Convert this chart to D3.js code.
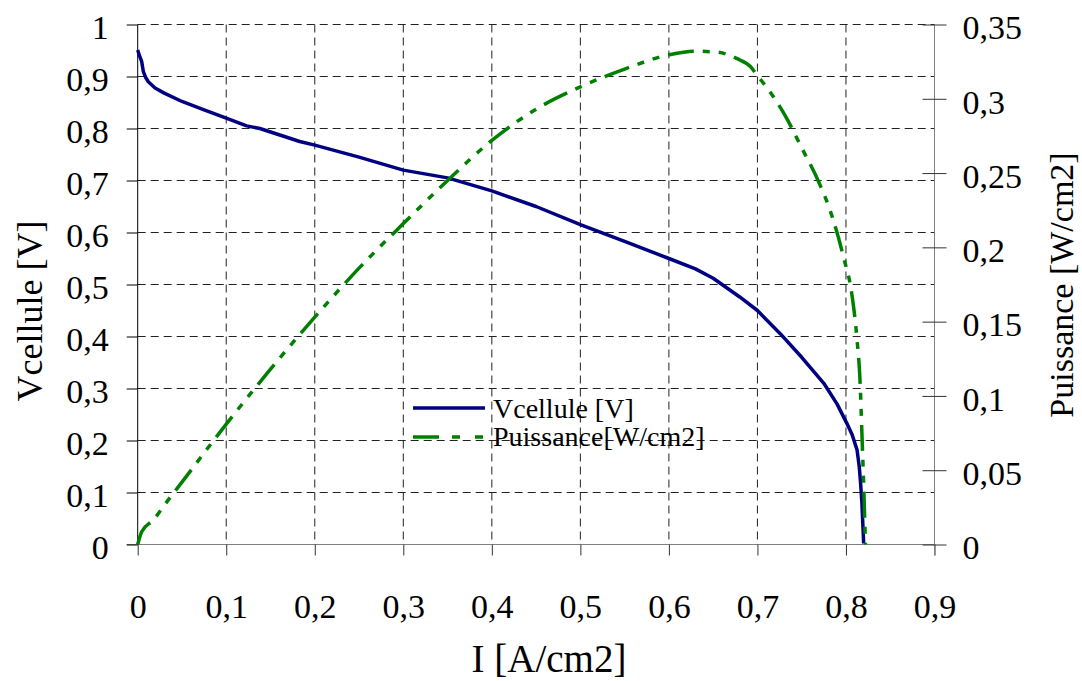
<!DOCTYPE html>
<html>
<head>
<meta charset="utf-8">
<script src="https://d3js.org/d3.v7.min.js"></script>
<style>
body{margin:0;background:#fff;}
</style>
</head>
<body>
<svg id="chart" width="1082" height="681"></svg>
<script>
// courbe de polarisation : tension cellule
const iV = [0, 0.002, 0.0045, 0.0063, 0.009, 0.012, 0.0196, 0.03, 0.05, 0.075, 0.1, 0.123, 0.138, 0.183, 0.2, 0.25, 0.3, 0.35, 0.4, 0.45, 0.5, 0.55, 0.6, 0.63, 0.65, 0.68, 0.7, 0.726, 0.75, 0.775, 0.79, 0.801, 0.807, 0.8125, 0.815, 0.8165, 0.818, 0.819, 0.82];
const vCell = [0.951, 0.94, 0.929, 0.91, 0.898, 0.89, 0.878, 0.868, 0.852, 0.836, 0.82, 0.805, 0.8, 0.775, 0.768, 0.745, 0.72, 0.705, 0.68, 0.65, 0.615, 0.583, 0.55, 0.53, 0.512, 0.476, 0.45, 0.405, 0.36, 0.31, 0.27, 0.233, 0.211, 0.182, 0.15, 0.118, 0.08, 0.041, 0.002];
// puissance
const iP = [0, 0.0045, 0.0176, 0.0346, 0.05, 0.1, 0.15, 0.2, 0.25, 0.3, 0.35, 0.4, 0.45, 0.5, 0.55, 0.6, 0.629, 0.654, 0.677, 0.692, 0.6995, 0.7165, 0.731, 0.75, 0.77, 0.782, 0.797, 0.807, 0.8125, 0.816, 0.818, 0.82, 0.822];
const puiss = [0, 0.0086, 0.0165, 0.030, 0.042, 0.081, 0.118, 0.153, 0.186, 0.216, 0.245, 0.272, 0.293, 0.308, 0.32, 0.3296, 0.332, 0.3314, 0.327, 0.3217, 0.316, 0.3027, 0.289, 0.267, 0.243, 0.225, 0.194, 0.167, 0.138, 0.1085, 0.075, 0.04, 0];

const xTicks = [0, 0.1, 0.2, 0.3, 0.4, 0.5, 0.6, 0.7, 0.8, 0.9];
const yTicks = [0, 0.1, 0.2, 0.3, 0.4, 0.5, 0.6, 0.7, 0.8, 0.9, 1];
const y2Ticks = [0, 0.05, 0.1, 0.15, 0.2, 0.25, 0.3, 0.35];

const FONT = "'Liberation Serif', 'Times New Roman', serif";
const svg = d3.select("#chart");
const L = 137.7, R = 934.5, T = 24.5, B = 544.5;

const x = d3.scaleLinear().domain([0, 0.9]).range([L, R]);
const y = d3.scaleLinear().domain([0, 1]).range([B, T]);
const y2 = d3.scaleLinear().domain([0, 0.35]).range([B, T]);

const fmt = d => String(+d.toFixed(2)).replace(".", ",");

// grille
const grid = svg.append("g").attr("stroke", "#222").attr("stroke-width", 1).attr("stroke-dasharray", "8,5");
grid.selectAll(".h").data(yTicks.slice(1)).join("line")
  .attr("x1", L).attr("x2", R).attr("y1", d => y(d)).attr("y2", d => y(d));
grid.selectAll(".v").data(xTicks.slice(1, -1)).join("line")
  .attr("y1", T).attr("y2", B).attr("x1", d => x(d)).attr("x2", d => x(d));

// axes
const gx = svg.append("g").attr("transform", `translate(0,${B})`)
  .call(d3.axisBottom(x).tickValues(xTicks).tickFormat(fmt).tickSize(11).tickPadding(38));
gx.select(".domain").attr("stroke", "#808080").attr("d", `M${L - 11},0H${R}`);
gx.selectAll(".tick line").attr("stroke", "#333");

const gy = svg.append("g").attr("transform", `translate(${L},0)`)
  .call(d3.axisLeft(y).tickValues(yTicks).tickFormat(fmt).tickSize(11).tickPadding(18));
gy.select(".domain").attr("stroke", "#000").attr("d", `M0,${T}V${B}`);

const gy2 = svg.append("g").attr("transform", `translate(${R},0)`)
  .call(d3.axisRight(y2).tickValues(y2Ticks).tickFormat(fmt).tickSize(12).tickPadding(16));
gy2.select(".domain").attr("stroke", "#808080").attr("d", `M0,${T}V${B + 11}`);
gy2.selectAll(".tick line").attr("x1", -12).attr("stroke", "#333");

[gx, gy, gy2].forEach(g => g.attr("font-family", FONT).attr("font-size", 34));
svg.selectAll(".tick text").style("font-family", FONT).style("font-size", "34px").attr("fill", "#000");
gx.selectAll(".tick text").attr("dy", "0.71em");
gy.selectAll(".tick text").attr("dy", "0.42em");
gy2.selectAll(".tick text").attr("dy", "0.42em");

// courbes
const lineV = d3.line().x((d, i) => x(iV[i])).y(d => y(d));
svg.append("path").datum(vCell).attr("d", lineV)
  .attr("fill", "none").attr("stroke", "#000080").attr("stroke-width", 3.5).attr("stroke-linejoin", "round");

const lineP = d3.line().x((d, i) => x(iP[i])).y(d => y2(d)).curve(d3.curveMonotoneX);
svg.append("path").datum(puiss).attr("d", lineP)
  .attr("fill", "none").attr("stroke", "#008000").attr("stroke-width", 3.5)
  .attr("stroke-dasharray", "26,9,7,9,7,9");

// titres
const title = (t, size) => t.style("font-family", FONT).style("font-size", size + "px").attr("fill", "#000");
title(svg.append("text").attr("x", 549).attr("y", 672).attr("text-anchor", "middle").text("I [A/cm2]"), 39);
title(svg.append("text").attr("transform", "translate(42,311) rotate(-90)").attr("text-anchor", "middle").text("Vcellule [V]"), 36);
title(svg.append("text").attr("transform", "translate(1073,285) rotate(-90)").attr("text-anchor", "middle").text("Puissance [W/cm2]"), 34);

// légende
const leg = svg.append("g");
leg.append("line").attr("x1", 413).attr("x2", 485).attr("y1", 408).attr("y2", 408)
  .attr("stroke", "#000080").attr("stroke-width", 3.5);
leg.append("line").attr("x1", 413).attr("x2", 485).attr("y1", 437).attr("y2", 437)
  .attr("stroke", "#008000").attr("stroke-width", 3.5).attr("stroke-dasharray", "26,13,8,15,8");
title(leg.append("text").attr("x", 493).attr("y", 418).text("Vcellule [V]"), 28);
title(leg.append("text").attr("x", 493).attr("y", 446).text("Puissance[W/cm2]"), 28);
</script>
</body>
</html>
